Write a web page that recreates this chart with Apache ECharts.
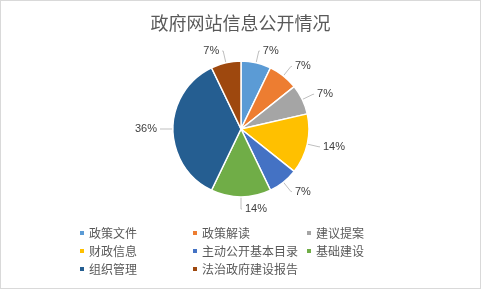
<!DOCTYPE html>
<html><head><meta charset="utf-8">
<script src="https://cdn.jsdelivr.net/npm/echarts@6/dist/echarts.min.js"></script>
<style>html,body{margin:0;padding:0;background:#fff}#c{width:481px;height:289px;box-sizing:border-box;border:1px solid #D9D9D9}</style>
</head><body><div id="c"></div>
<script>
var categories = ['政策文件','政策解读','建议提案','财政信息','主动公开基本目录','基础建设','组织管理','法治政府建设报告'];
var values = [1,1,1,2,1,2,5,1];
var colors = ['#5B9BD5','#ED7D31','#A5A5A5','#FFC000','#4472C4','#70AD47','#255E91','#9E480E'];
var legendCols = [['政策文件','财政信息','组织管理'],['政策解读','主动公开基本目录','法治政府建设报告'],['建议提案','基础建设']];
var title = '政府网站信息公开情况';

var chart = echarts.init(document.getElementById('c'), null, {renderer:'canvas'});
var font = '"Noto Sans CJK SC", "Microsoft YaHei", sans-serif';
var legendLefts = [72, 185, 299];
var legends = legendCols.map(function(col, i){
  return {
    data: col, orient: 'vertical', left: legendLefts[i], top: 221,
    itemWidth: 6, itemHeight: 6, itemGap: 6, icon: 'rect',
    textStyle: {fontFamily: font, fontSize: 12, color: '#595959', padding:[0,0,0,-1]},
    selectedMode: false
  };
});
chart.setOption({
  color: colors,
  animation: false,
  title: {text: title, left: 'center', top: 8, textStyle: {fontFamily: font, fontSize: 18, fontWeight: 'normal', color: '#595959'}},
  legend: legends,
  series: [{
    type: 'pie',
    center: [240, 128],
    radius: [0, 68],
    startAngle: 90,
    clockwise: true,
    itemStyle: {borderColor: '#fff', borderWidth: 1.5},
    label: {
      formatter: function(p){ return Math.round(p.percent) + '%'; },
      fontFamily: 'Liberation Sans, Arial, sans-serif', fontSize: 11, color: '#404040',
      distanceToLabelLine: 3
    },
    labelLine: {length: 12, length2: 1, lineStyle: {color: '#BFBFBF', width: 1}},
    data: categories.map(function(c, i){ return {name: c, value: values[i]}; })
  }]
});
</script></body></html>
